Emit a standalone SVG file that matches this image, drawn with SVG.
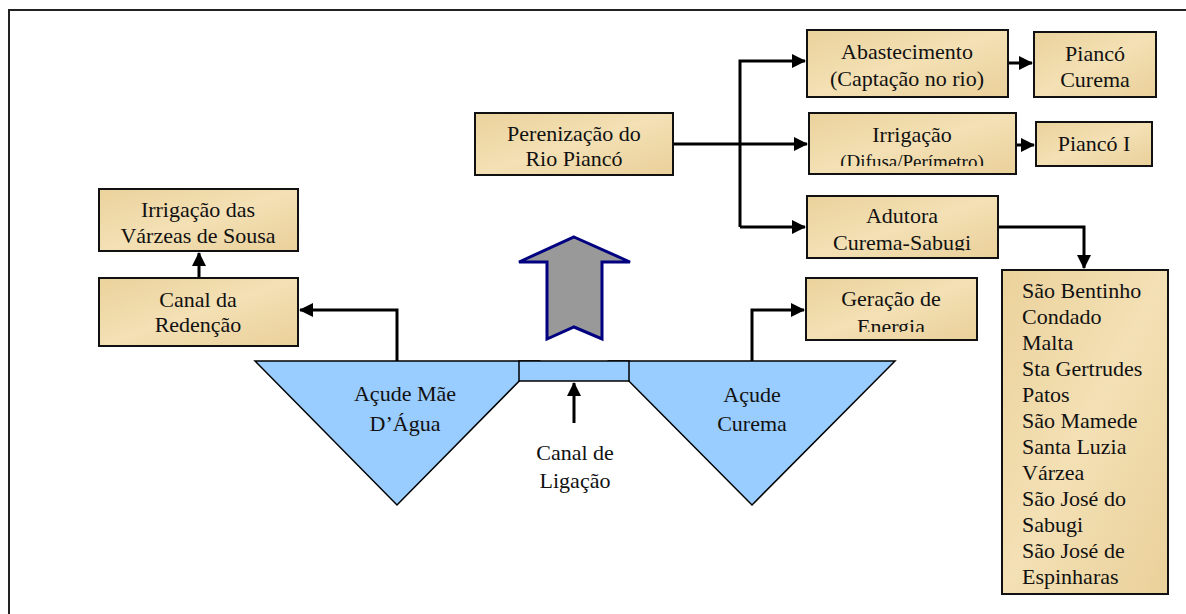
<svg xmlns="http://www.w3.org/2000/svg" width="1186" height="614" viewBox="0 0 1186 614">
<style>
.box{fill:url(#parch);stroke:#111;stroke-width:2}
.t{font-family:"Liberation Serif","Times New Roman",serif;font-size:22px;fill:#111;text-anchor:middle}
.tl{font-family:"Liberation Serif","Times New Roman",serif;font-size:22px;fill:#111}
.s{font-size:19px}
.c{fill:none;stroke:#000;stroke-width:3}
.res{fill:#99CCFF;stroke:#000;stroke-width:1.5}
</style>
<defs>
<linearGradient id="parch" x1="0" y1="0" x2="1" y2="1">
<stop offset="0" stop-color="#EBD29C"/>
<stop offset="0.5" stop-color="#F3E0B4"/>
<stop offset="1" stop-color="#EAD09A"/>
</linearGradient>
<marker id="ah" markerWidth="10" markerHeight="10" refX="9" refY="5" orient="auto" markerUnits="userSpaceOnUse" viewBox="0 0 10 10">
<path d="M0,0 L10,5 L0,10 z" fill="#000"/>
</marker>
<marker id="ahb" markerWidth="14" markerHeight="14" refX="13" refY="7" orient="auto" markerUnits="userSpaceOnUse" viewBox="0 0 14 14">
<path d="M0,0 L14,7 L0,14 z" fill="#000"/>
</marker>
<clipPath id="cIrr"><rect x="809" y="113" width="207" height="53"/></clipPath>
<clipPath id="cAdu"><rect x="807" y="196" width="191" height="54.5"/></clipPath>
<clipPath id="cGer"><rect x="806" y="278" width="171" height="54"/></clipPath>
</defs>
<rect x="0" y="0" width="1186" height="614" fill="#fff"/>
<path d="M9,614 V10 H1186" fill="none" stroke="#222" stroke-width="2"/>

<g id="connectors">
<path class="c" d="M673,144 H807" marker-end="url(#ahb)"/>
<path class="c" d="M740,227 V61 H805" marker-end="url(#ahb)"/>
<path class="c" d="M740,227 H805" marker-end="url(#ahb)"/>
<path class="c" d="M1008,63 H1032" marker-end="url(#ahb)"/>
<path class="c" d="M1016,145 H1034" marker-end="url(#ahb)"/>
<path class="c" d="M998,227 H1084 V268" stroke-width="2" marker-end="url(#ahb)"/>
<path class="c" d="M199,278 V253" marker-end="url(#ahb)"/>
<path class="c" d="M397,361 V310 H300" marker-end="url(#ahb)"/>
<path class="c" d="M752,361 V310 H804" marker-end="url(#ahb)"/>
<path class="c" d="M574,423 V383" marker-end="url(#ahb)"/>
</g>

<g id="acude-mae-dagua">
<polygon class="res" points="255,361 539,361 397,505"/>
<text class="t" x="405" y="401">Açude Mãe</text>
<text class="t" x="405" y="431">D’Água</text>
</g>
<g id="acude-curema">
<polygon class="res" points="609,361 895,361 752,505"/>
<text class="t" x="752" y="402">Açude</text>
<text class="t" x="752" y="431">Curema</text>
</g>
<g id="canal-ligacao">
<rect class="res" x="519" y="361" width="110" height="20"/>
<text class="t" x="575" y="460">Canal de</text>
<text class="t" x="575" y="488">Ligação</text>
</g>
<g id="big-arrow">
<polygon points="574,237 630,262 602,262 602,339 574,327 547,339 547,262 519,262" fill="#999999" stroke="#000080" stroke-width="3" stroke-linejoin="miter"/>
</g>

<g id="perenizacao">
<rect class="box" x="475" y="113" width="198" height="62"/>
<text class="t" x="574" y="141">Perenização do</text>
<text class="t" x="574" y="166">Rio Piancó</text>
</g>
<g id="abastecimento">
<rect class="box" x="807" y="30" width="201" height="67"/>
<text class="t" x="907" y="59">Abastecimento</text>
<text class="t" x="907" y="86">(Captação no rio)</text>
</g>
<g id="pianco-curema">
<rect class="box" x="1034" y="32" width="122" height="65"/>
<text class="t" x="1095" y="61">Piancó</text>
<text class="t" x="1095" y="87">Curema</text>
</g>
<g id="irrigacao">
<rect class="box" x="809" y="113" width="207" height="61"/>
<g clip-path="url(#cIrr)">
<text class="t" x="912" y="142">Irrigação</text>
<text class="t s" x="912" y="168">(Difusa/Perímetro)</text>
</g>
</g>
<g id="pianco-i">
<rect class="box" x="1036" y="122" width="116" height="44"/>
<text class="t" x="1094" y="151">Piancó I</text>
</g>
<g id="adutora">
<rect class="box" x="807" y="196" width="191" height="62"/>
<g clip-path="url(#cAdu)">
<text class="t" x="902" y="223">Adutora</text>
<text class="t" x="902" y="250">Curema-Sabugi</text>
</g>
</g>
<g id="cidades">
<rect class="box" x="1002" y="270" width="166" height="324"/>
<text class="tl" x="1022" y="298">São Bentinho</text>
<text class="tl" x="1022" y="324">Condado</text>
<text class="tl" x="1022" y="350">Malta</text>
<text class="tl" x="1022" y="376">Sta Gertrudes</text>
<text class="tl" x="1022" y="402">Patos</text>
<text class="tl" x="1022" y="428">São Mamede</text>
<text class="tl" x="1022" y="454">Santa Luzia</text>
<text class="tl" x="1022" y="480">Várzea</text>
<text class="tl" x="1022" y="506">São José do</text>
<text class="tl" x="1022" y="532">Sabugi</text>
<text class="tl" x="1022" y="558">São José de</text>
<text class="tl" x="1022" y="584">Espinharas</text>
</g>
<g id="geracao">
<rect class="box" x="806" y="278" width="171" height="62"/>
<g clip-path="url(#cGer)">
<text class="t" x="891" y="306">Geração de</text>
<text class="t" x="891" y="334">Energia</text>
</g>
</g>
<g id="irrigacao-varzeas">
<rect class="box" x="99" y="189" width="199" height="62"/>
<text class="t" x="198" y="217">Irrigação das</text>
<text class="t" x="198" y="243">Várzeas de Sousa</text>
</g>
<g id="canal-redencao">
<rect class="box" x="99" y="278" width="199" height="68"/>
<text class="t" x="198" y="307">Canal da</text>
<text class="t" x="198" y="332">Redenção</text>
</g>
</svg>
